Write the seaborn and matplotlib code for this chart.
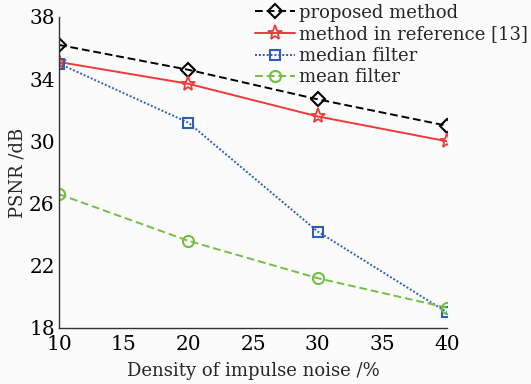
import matplotlib
matplotlib.use("Agg")
import matplotlib.pyplot as plt
import seaborn as sns
import pandas as pd

density = [10, 20, 30, 40]
proposed = [36.2, 34.6, 32.7, 31.0]
reference13 = [35.1, 33.7, 31.6, 30.0]
median_f = [35.0, 31.2, 24.2, 19.0]
mean_f = [26.6, 23.6, 21.2, 19.3]
labels = ["proposed method", "method in reference [13]", "median filter", "mean filter"]
xticks = [10, 15, 20, 25, 30, 35, 40]
yticks = [18, 22, 26, 30, 34, 38]

sns.set_style("white")
plt.rcParams['font.family'] = ['DejaVu Serif']
plt.rcParams['mathtext.fontset'] = 'dejavuserif'

fig = plt.figure(figsize=(5.31, 3.84), dpi=100)
fig.patch.set_facecolor('#fbfbfb')
ax = fig.add_axes([0.111, 0.146, 0.731, 0.810])
ax.set_facecolor('#fbfbfb')

styles = [
    dict(color='black', linestyle=(0, (4, 2)), marker='D', markersize=7, mfc='none', mec='black', mew=1.5),
    dict(color='#f03a3a', linestyle='-', marker='*', markersize=11, mfc='none', mec='#f03a3a', mew=1.3),
    dict(color='#2f5fb5', linestyle=(0, (1, 1)), marker='s', markersize=7, mfc='none', mec='#2f5fb5', mew=1.5),
    dict(color='#72c042', linestyle=(0, (4, 2)), marker='o', markersize=8, mfc='none', mec='#72c042', mew=1.5),
]
series = [proposed, reference13, median_f, mean_f]
for vals, lab, st in zip(series, labels, styles):
    df = pd.DataFrame({'x': density, 'y': vals})
    sns.lineplot(data=df, x='x', y='y', ax=ax, label=lab, linewidth=1.4, **st)

ax.set_xlim(10, 40)
ax.set_ylim(18, 38)
ax.set_xticks(xticks)
ax.set_yticks(yticks)
ax.set_yticks([20, 24, 28, 32, 36], minor=True)
ax.tick_params(axis='both', which='both', direction='in', length=5, width=1, labelsize=14.5, colors='black')
ax.tick_params(axis='x', pad=5)
ax.tick_params(axis='y', pad=3)
for s in ['top', 'right']:
    ax.spines[s].set_visible(False)
for s in ['left', 'bottom']:
    ax.spines[s].set_color('#333333')
    ax.spines[s].set_linewidth(1.0)
ax.set_xlabel('Density of impulse noise /%', fontsize=13, labelpad=6)
ax.set_ylabel('PSNR /dB', fontsize=13, labelpad=2)

leg = ax.legend(loc='upper right', bbox_to_anchor=(1.0, 1.0), bbox_transform=fig.transFigure,
                frameon=False, fontsize=13, handlelength=2.2, handletextpad=0.2,
                labelspacing=0.2, borderaxespad=0.1, borderpad=0.1)
fig.savefig('out.png', dpi=100, facecolor=fig.get_facecolor())
